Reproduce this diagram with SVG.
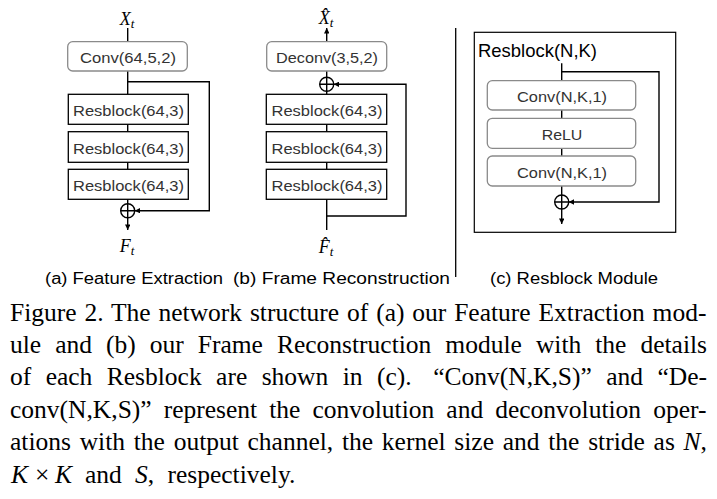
<svg xmlns="http://www.w3.org/2000/svg" width="717" height="499" viewBox="0 0 717 499">
<style>
.box{fill:#fff;stroke:#000;stroke-width:1.3}
.rbox{fill:#fff;stroke:#8a8a8a;stroke-width:1.3}
.lbl{font-family:"Liberation Sans",Arial,sans-serif;font-size:15.5px;fill:#333;text-anchor:middle}
.sub{font-family:"Liberation Sans",Arial,sans-serif;font-size:16px;fill:#000;text-anchor:middle}
.math{font-family:"Liberation Serif","Times New Roman",serif;font-style:italic;font-size:18px;fill:#000;text-anchor:middle}
.cap{font-family:"Liberation Serif","Times New Roman",serif;font-size:25.5px;fill:#000}
.wire{fill:none;stroke:#000;stroke-width:1.4}
.sum{fill:#fff;stroke:#000;stroke-width:1.4}
</style>
<defs>
<marker id="ah" viewBox="0 0 10 10" refX="10" refY="5" markerWidth="6" markerHeight="5.5" orient="auto" markerUnits="userSpaceOnUse">
<path d="M0,0 L10,5 L0,10 z" fill="#000"/>
</marker>
</defs>
<rect width="717" height="499" fill="#fff"/>

<g id="connectors">
<path class="wire" d="M127.7,28 V41.7"/>
<path class="wire" d="M127.7,71 V94.3"/>
<path class="wire" d="M127.7,124.3 V131.7"/>
<path class="wire" d="M127.7,162.3 V169.3"/>
<path class="wire" d="M127.7,199.3 V203.7"/>
<path class="wire" d="M127.7,217.7 V230" marker-end="url(#ah)"/>
<path class="wire" d="M127.7,81.7 H209.3 V210.7 H134.7" marker-end="url(#ah)"/>
<path class="wire" d="M326.7,41.7 V28" marker-end="url(#ah)"/>
<path class="wire" d="M326.7,71 V77.3"/>
<path class="wire" d="M326.7,91.3 V94.3"/>
<path class="wire" d="M326.7,124.3 V131.7"/>
<path class="wire" d="M326.7,162.3 V169.3"/>
<path class="wire" d="M326.7,199.3 V230"/>
<path class="wire" d="M326.7,216 H406 V84.3 H333.7" marker-end="url(#ah)"/>
<path class="wire" d="M561.7,63.3 V80.7"/>
<path class="wire" d="M561.7,110 V118.3"/>
<path class="wire" d="M561.7,148.3 V156"/>
<path class="wire" d="M561.7,186 V195"/>
<path class="wire" d="M561.7,209 V224" marker-end="url(#ah)"/>
<path class="wire" d="M561.7,71.7 H659 V202 H568.7" marker-end="url(#ah)"/>
</g>

<line x1="455.7" y1="28" x2="455.7" y2="277" stroke="#000" stroke-width="1.3"/>

<!-- Panel (a) -->
<g id="a-input"><text class="math" x="127" y="24.5">X<tspan font-size="13" dy="3">t</tspan></text></g>
<g id="a-conv"><rect class="rbox" x="67.7" y="41.7" width="119.6" height="29.3" rx="5"/><text class="lbl" x="128" y="63" textLength="96" lengthAdjust="spacingAndGlyphs">Conv(64,5,2)</text></g>
<g id="a-rb1"><rect class="box" x="68.3" y="94.3" width="120" height="30"/><text class="lbl" x="128.5" y="116" textLength="111" lengthAdjust="spacingAndGlyphs">Resblock(64,3)</text></g>
<g id="a-rb2"><rect class="box" x="68.3" y="131.7" width="120" height="30.6"/><text class="lbl" x="128.5" y="153.5" textLength="111" lengthAdjust="spacingAndGlyphs">Resblock(64,3)</text></g>
<g id="a-rb3"><rect class="box" x="68.3" y="169.3" width="120" height="30"/><text class="lbl" x="128.5" y="191" textLength="111" lengthAdjust="spacingAndGlyphs">Resblock(64,3)</text></g>
<g id="a-sum"><circle class="sum" cx="127.7" cy="210.7" r="7"/><path class="wire" d="M120.7,210.7 H134.7 M127.7,203.7 V217.7"/></g>
<g id="a-output"><text class="math" x="127" y="252">F<tspan font-size="13" dy="3">t</tspan></text></g>
<text class="sub" x="134" y="284" textLength="178" lengthAdjust="spacingAndGlyphs">(a) Feature Extraction</text>

<!-- Panel (b) -->
<g id="b-output"><text class="math" x="326" y="24">X̂<tspan font-size="13" dy="3">t</tspan></text></g>
<g id="b-deconv"><rect class="rbox" x="266.7" y="41.7" width="120" height="29.3" rx="5"/><text class="lbl" x="327" y="63" textLength="102" lengthAdjust="spacingAndGlyphs">Deconv(3,5,2)</text></g>
<g id="b-sum"><circle class="sum" cx="326.7" cy="84.3" r="7"/><path class="wire" d="M319.7,84.3 H333.7 M326.7,77.3 V91.3"/></g>
<g id="b-rb1"><rect class="box" x="266.3" y="94.3" width="120.4" height="30"/><text class="lbl" x="327" y="116" textLength="111" lengthAdjust="spacingAndGlyphs">Resblock(64,3)</text></g>
<g id="b-rb2"><rect class="box" x="266.3" y="131.7" width="120.4" height="30.6"/><text class="lbl" x="327" y="153.5" textLength="111" lengthAdjust="spacingAndGlyphs">Resblock(64,3)</text></g>
<g id="b-rb3"><rect class="box" x="266.3" y="169.3" width="120.4" height="30"/><text class="lbl" x="327" y="191" textLength="111" lengthAdjust="spacingAndGlyphs">Resblock(64,3)</text></g>
<g id="b-input"><text class="math" x="326" y="253">F̂<tspan font-size="13" dy="3">t</tspan></text></g>
<text class="sub" x="341.5" y="284" textLength="217" lengthAdjust="spacingAndGlyphs">(b) Frame Reconstruction</text>

<!-- Panel (c) -->
<g id="c-frame"><rect x="474.3" y="32.3" width="201.4" height="200" fill="none" stroke="#000" stroke-width="1.2"/>
<text x="478" y="57" font-family="Liberation Sans, Arial, sans-serif" font-size="18.5" fill="#000" textLength="119" lengthAdjust="spacingAndGlyphs">Resblock(N,K)</text></g>
<g id="c-conv1"><rect class="rbox" x="487.3" y="80.7" width="148.4" height="29.3" rx="5"/><text class="lbl" x="562" y="102" textLength="90" lengthAdjust="spacingAndGlyphs">Conv(N,K,1)</text></g>
<g id="c-relu"><rect class="rbox" x="487.3" y="118.3" width="148.4" height="30" rx="5"/><text class="lbl" x="562" y="140" textLength="40.7" lengthAdjust="spacingAndGlyphs">ReLU</text></g>
<g id="c-conv2"><rect class="rbox" x="487.3" y="156" width="148.4" height="30" rx="5"/><text class="lbl" x="562" y="177.5" textLength="90" lengthAdjust="spacingAndGlyphs">Conv(N,K,1)</text></g>
<g id="c-sum"><circle class="sum" cx="561.7" cy="202" r="7"/><path class="wire" d="M554.7,202 H568.7 M561.7,195 V209"/></g>
<text class="sub" x="574" y="284" textLength="168" lengthAdjust="spacingAndGlyphs">(c) Resblock Module</text>

<!-- Caption -->
<g id="caption">
<text class="cap" x="10" y="320.5" style="word-spacing:1.5px">Figure 2. The network structure of (a) our Feature Extraction mod-</text>
<text class="cap" x="10" y="352.9" style="word-spacing:7.65px">ule and (b) our Frame Reconstruction module with the details</text>
<text class="cap" x="10" y="385.3" style="word-spacing:8.04px">of each Resblock are shown in (c).<tspan dx="7.2"> “Conv(N,K,S)” and “De-</tspan></text>
<text class="cap" x="10" y="417.7" style="word-spacing:5.69px">conv(N,K,S)” represent the convolution and deconvolution oper-</text>
<text class="cap" x="10" y="450.1" style="word-spacing:2.37px">ations with the output channel, the kernel size and the stride as <tspan font-style="italic">N</tspan>,</text>
<text class="cap" y="482.5" style="word-spacing:7px"><tspan x="11" font-style="italic">K</tspan><tspan x="35">×</tspan><tspan x="55" font-style="italic">K</tspan><tspan x="85">and</tspan><tspan x="135" font-style="italic">S</tspan>, respectively.</text>
</g>
</svg>
